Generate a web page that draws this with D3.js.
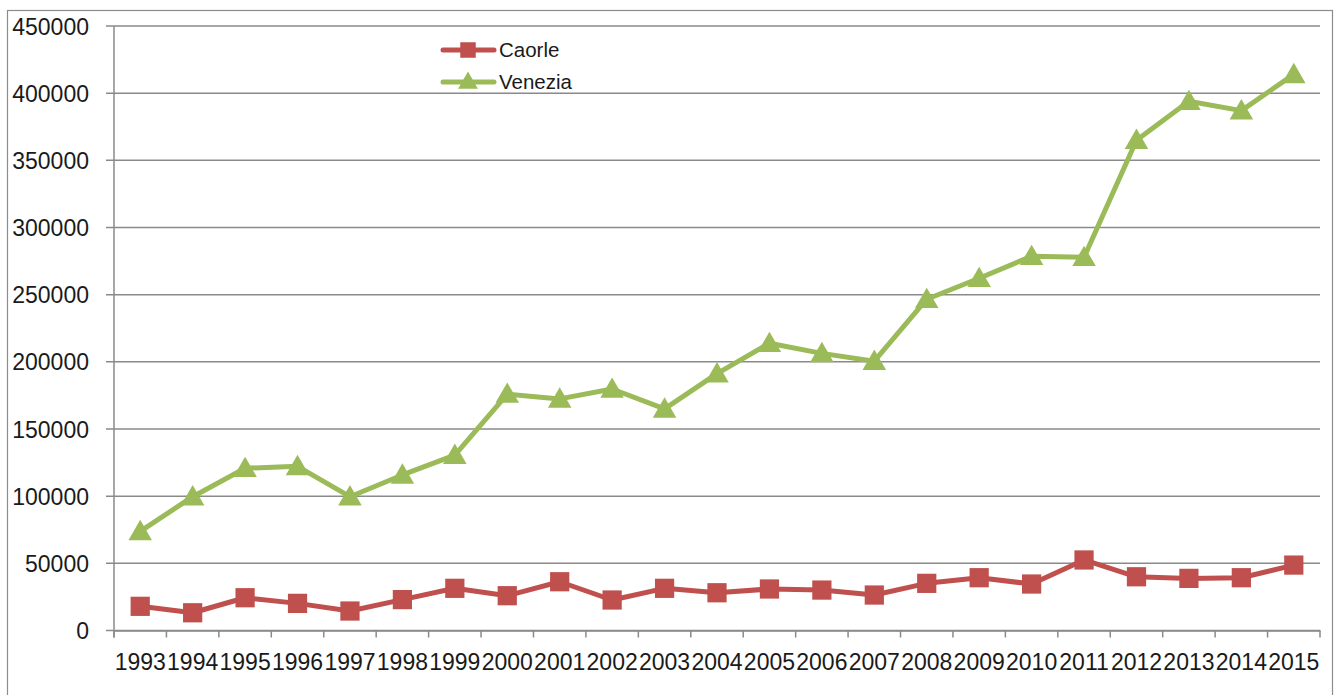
<!DOCTYPE html>
<html><head><meta charset="utf-8">
<script src="https://cdn.jsdelivr.net/npm/d3@7"></script>
<style>body{margin:0;background:#fff}svg{display:block}</style>
</head><body>
<svg id="chart" width="1341" height="695"></svg>
<script>
const years = ["1993","1994","1995","1996","1997","1998","1999","2000","2001","2002","2003","2004","2005","2006","2007","2008","2009","2010","2011","2012","2013","2014","2015"];
const caorle = [18000,13200,24400,20200,14500,23000,31400,25900,36300,22700,31400,28100,30900,30100,26400,35100,39300,34600,52500,40000,38800,39300,48700];
const venezia = [73800,99600,120800,122200,99600,115800,130500,176000,172400,179800,165000,191200,213800,206300,200500,246600,262200,278600,277800,365000,394000,387000,414000];
const yTicks = [0,50000,100000,150000,200000,250000,300000,350000,400000,450000];
const seriesNames = ["Caorle","Venezia"];
const seriesColors = ["#C0504D","#9BBB59"];

(function(){
const svg = d3.select("#chart");
const font = "'Liberation Sans', Arial, sans-serif";
const pl = 114, pr = 1320, pt = 26, pb = 630.5;

// outer border
svg.append("rect").attr("x",7.5).attr("y",10.5).attr("width",1325).attr("height",700)
  .attr("fill","none").attr("stroke","#8c8c8c").attr("stroke-width",1.2);

const x = d3.scaleBand().domain(years).range([pl,pr]).paddingInner(0).paddingOuter(0);
const y = d3.scaleLinear().domain([0,450000]).range([pb,pt]);

// gridlines
svg.append("g").selectAll("line").data(yTicks).join("line")
  .attr("x1",pl-8).attr("x2",pr).attr("y1",d=>y(d)).attr("y2",d=>y(d))
  .attr("stroke","#8a8a8a").attr("stroke-width",1.5);

// y axis
const yAxis = svg.append("g").attr("transform",`translate(${pl},0)`)
  .call(d3.axisLeft(y).tickValues(yTicks).tickFormat(d3.format("d")).tickSize(0).tickPadding(25));
yAxis.select(".domain").remove();
yAxis.selectAll("text").attr("font-family",font).attr("font-size","23px").attr("fill","#1a1a1a").attr("dy","0.35em");
svg.append("line").attr("x1",pl).attr("x2",pl).attr("y1",pt).attr("y2",pb+7)
  .attr("stroke","#8a8a8a").attr("stroke-width",1.5);

// x axis
const xAxis = svg.append("g").attr("transform",`translate(0,${pb})`)
  .call(d3.axisBottom(x).tickSize(0).tickPadding(23));
xAxis.select(".domain").attr("stroke","#8a8a8a").attr("stroke-width",1.5);
xAxis.selectAll("text").attr("font-family",font).attr("font-size","23px").attr("fill","#1a1a1a").attr("dy","0.71em");
svg.append("g").selectAll("line").data(d3.range(years.length+1)).join("line")
  .attr("x1",i=>pl+i*x.step()).attr("x2",i=>pl+i*x.step())
  .attr("y1",pb).attr("y2",pb+7).attr("stroke","#8a8a8a").attr("stroke-width",1.5);

const cx = d => x(d) + x.bandwidth()/2;
const line = d3.line().x((d,i)=>cx(years[i])).y(d=>y(d));
const sq = d3.symbol().type(d3.symbolSquare).size(370);
const tri = d3.symbol().type(d3.symbolTriangle).size(240);

[caorle, venezia].forEach((vals, si) => {
  const g = svg.append("g");
  g.append("path").datum(vals).attr("d",line).attr("fill","none")
    .attr("stroke",seriesColors[si]).attr("stroke-width",5).attr("stroke-linejoin","round");
  g.selectAll("path.m").data(vals).join("path").attr("class","m")
    .attr("d", si===0 ? sq : tri)
    .attr("transform",(d,i)=>`translate(${cx(years[i])},${y(d) + (si===1?2:0)})`)
    .attr("fill",seriesColors[si]);
});

// legend
const legY = [50, 82];
seriesNames.forEach((name,i)=>{
  const g = svg.append("g");
  g.append("line").attr("x1",443).attr("x2",494).attr("y1",legY[i]).attr("y2",legY[i])
    .attr("stroke",seriesColors[i]).attr("stroke-width",5).attr("stroke-linecap","round");
  g.append("path").attr("d", i===0 ? d3.symbol().type(d3.symbolSquare).size(240)() : d3.symbol().type(d3.symbolTriangle).size(170)())
    .attr("transform",`translate(468,${legY[i]+(i===1?1:0)})`).attr("fill",seriesColors[i]);
  g.append("text").attr("x",499).attr("y",legY[i]).attr("dy","0.35em")
    .attr("font-family",font).attr("font-size","20.5px").attr("fill","#1a1a1a").text(name);
});
})();
</script>
</body></html>
